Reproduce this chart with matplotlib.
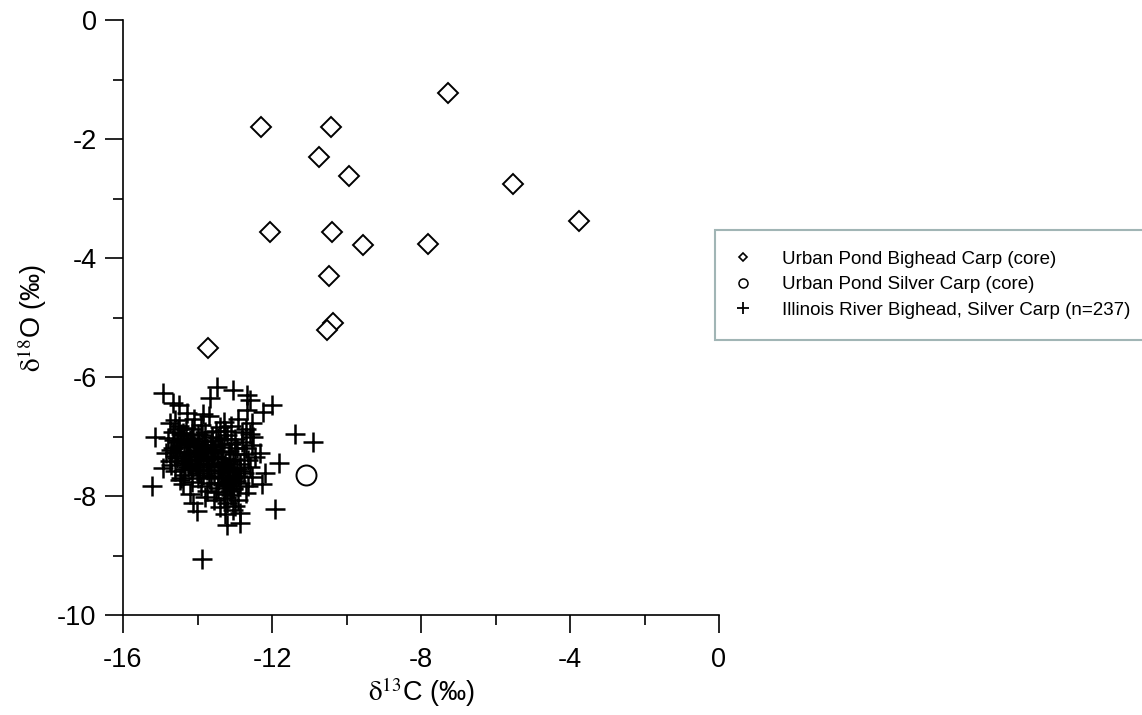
import matplotlib
matplotlib.use("Agg")
import matplotlib.pyplot as plt
from matplotlib.lines import Line2D
from matplotlib.ticker import MultipleLocator

plt.rcParams['font.family'] = ['Liberation Sans', 'DejaVu Sans']
plt.rcParams['mathtext.fontset'] = 'stix'

# Urban Pond Bighead Carp (core)
bighead_c = [-12.30, -10.42, -10.75, -9.93, -5.52, -3.77, -12.06, -10.38,
             -9.56, -7.81, -10.47, -10.37, -10.53, -13.71, -7.27]
bighead_o = [-1.79, -1.79, -2.31, -2.62, -2.76, -3.37, -3.56, -3.56,
             -3.78, -3.76, -4.30, -5.09, -5.21, -5.51, -1.23]

# Urban Pond Silver Carp (core)
silver_c = [-11.09]
silver_o = [-7.64]

# Illinois River Bighead, Silver Carp
river_c = [
    -13.89, -15.23, -11.92, -11.38, -10.91, -11.81, -12.19, -12.28, -14.92, -14.65,
    -13.47, -13.04, -12.68, -12.01, -12.23, -12.68, -13.66, -15.14, -14.92, -14.47,
    -14.11, -14.02, -13.22, -12.86, -13.04, -12.32, -14.74, -14.29, -14.49, -12.59,
    -14.60, -14.30, -14.10, -13.90, -13.70, -13.50, -13.30, -13.10, -12.90, -12.70,
    -14.45, -13.85, -12.55,
    -14.80, -14.55, -14.35, -14.20, -14.00, -13.80, -13.60, -13.40, -13.20, -13.00,
    -12.80, -12.60, -14.65, -13.95, -13.30,
    -14.70, -14.50, -14.30, -14.10, -13.90, -13.75, -13.55, -13.35, -13.15, -12.95,
    -12.75, -12.55, -14.85, -14.00, -13.65,
    -14.75, -14.55, -14.40, -14.20, -14.05, -13.85, -13.65, -13.45, -13.25, -13.05,
    -12.85, -12.65, -12.45, -13.95, -13.35,
    -14.60, -14.35, -14.15, -13.95, -13.75, -13.55, -13.35, -13.15, -12.95, -12.75,
    -12.55, -13.45, -13.05,
    -14.40, -14.15, -13.90, -13.65, -13.45, -13.25, -13.05, -12.85, -12.65, -13.15,
    -14.20, -13.80, -13.50, -13.30, -13.10, -12.90, -12.70, -13.20,
    -13.40, -13.00, -12.85, -13.25,
    -14.50, -14.25, -14.05, -13.80, -13.60, -13.40, -13.20, -13.00, -12.80, -12.60,
    -14.70, -14.45, -14.25, -14.00, -13.75, -13.55, -13.35, -13.10, -12.90, -12.70,
    -14.15, -13.95, -13.70, -13.45, -13.25, -13.05, -12.85, -12.50, -14.60, -14.30,
    -14.62, -14.48, -14.38, -14.22, -14.12, -13.98, -13.88, -13.72, -13.62, -13.52,
    -14.58, -14.42, -14.28, -14.18, -14.08, -13.92, -13.82, -13.68, -13.58, -13.42,
    -14.52, -14.36, -14.24, -14.14, -14.02, -13.86, -13.78, -13.64, -13.48, -13.38,
    -13.28, -13.18, -13.08, -13.22, -13.12, -12.98, -13.32, -13.16, -13.02, -13.26,
    -14.66, -14.34, -14.06, -13.84, -13.56, -13.36, -13.14, -12.96, -14.44, -13.74,
]
river_o = [
    -9.06, -7.84, -8.22, -6.96, -7.09, -7.44, -7.62, -7.80, -6.27, -6.44,
    -6.16, -6.22, -6.30, -6.47, -6.58, -6.55, -6.36, -7.00, -7.53, -7.73,
    -8.12, -8.26, -8.49, -8.46, -8.24, -7.28, -6.78, -6.61, -6.47, -6.39,
    -6.72, -6.85, -6.70, -6.80, -6.66, -6.90, -6.75, -6.82, -6.70, -6.88,
    -6.95, -6.62, -6.78,
    -7.02, -7.10, -6.98, -7.06, -6.96, -7.08, -7.00, -7.12, -6.98, -7.05,
    -7.10, -6.95, -6.92, -7.12, -7.04,
    -7.22, -7.18, -7.26, -7.16, -7.24, -7.20, -7.28, -7.18, -7.25, -7.20,
    -7.30, -7.15, -7.28, -7.30, -7.14,
    -7.42, -7.36, -7.45, -7.38, -7.48, -7.40, -7.46, -7.36, -7.44, -7.38,
    -7.47, -7.40, -7.34, -7.34, -7.50,
    -7.58, -7.64, -7.55, -7.62, -7.56, -7.66, -7.58, -7.64, -7.55, -7.62,
    -7.68, -7.70, -7.70,
    -7.80, -7.76, -7.84, -7.78, -7.86, -7.80, -7.88, -7.78, -7.84, -7.74,
    -7.96, -8.02, -7.94, -8.04, -7.98, -8.06, -7.95, -8.12,
    -8.18, -8.16, -8.28, -8.30,
    -6.82, -7.12, -7.22, -6.92, -7.36, -6.84, -7.52, -7.30, -6.92, -7.52,
    -7.48, -7.70, -7.52, -7.70, -7.92, -8.06, -7.26, -7.12, -7.66, -7.20,
    -6.88, -7.56, -7.68, -7.02, -6.90, -7.86, -7.58, -7.00, -7.32, -7.40,
    -7.06, -7.14, -6.94, -7.32, -7.04, -7.16, -6.98, -7.34, -7.08, -7.22,
    -7.26, -7.42, -7.10, -7.48, -7.30, -7.44, -7.18, -7.52, -7.32, -7.56,
    -6.88, -7.28, -7.46, -7.02, -7.58, -7.26, -7.40, -7.14, -7.36, -7.62,
    -7.48, -7.60, -7.72, -7.82, -7.92, -7.66, -7.78, -7.84, -7.54, -7.96,
    -7.20, -7.54, -7.40, -7.64, -7.22, -7.44, -7.42, -7.74, -7.06, -7.34,
]

labels = ['Urban Pond Bighead Carp (core)',
          'Urban Pond Silver Carp (core)',
          'Illinois River Bighead, Silver Carp (n=237)']

fig = plt.figure(figsize=(11.42, 7.15), dpi=100)
ax = fig.add_axes([123 / 1142, 1 - 615 / 715, 596 / 1142, 595 / 715])

ax.plot(river_c, river_o, linestyle='none', marker='+', markersize=14.5,
        markeredgewidth=1.8, color='black', zorder=2)
ax.plot(silver_c, silver_o, linestyle='none', marker='o', markersize=14.4,
        markerfacecolor='white', markeredgecolor='black', markeredgewidth=1.4, zorder=3)
ax.plot(bighead_c, bighead_o, linestyle='none', marker='D', markersize=9.7,
        markerfacecolor='white', markeredgecolor='black', markeredgewidth=1.4, zorder=3)

ax.set_xlim(-16, 0)
ax.set_ylim(-10, 0)
ax.xaxis.set_minor_locator(MultipleLocator(2))
ax.yaxis.set_minor_locator(MultipleLocator(1))
ax.set_xticks([-16, -12, -8, -4, 0])
ax.set_xticklabels(['-16', '-12', '-8', '-4', '0'])
ax.set_yticks([0, -2, -4, -6, -8, -10])
ax.set_yticklabels(['0', '-2', '-4', '-6', '-8', '-10'])

for side in ['top', 'right']:
    ax.spines[side].set_visible(False)
for side in ['left', 'bottom']:
    ax.spines[side].set_linewidth(1.2)

ax.tick_params(which='major', direction='out', length=13, width=1.2, labelsize=19.5)
ax.tick_params(axis='x', which='major', pad=10)
ax.tick_params(axis='y', which='major', pad=6)
ax.tick_params(which='minor', direction='out', length=7, width=1.2)

ax.set_xlabel(r'$\mathrm{\delta}^{13}$C (‰)', fontsize=19.5, labelpad=2)
ax.set_ylabel(r'$\mathrm{\delta}^{18}$O (‰)', fontsize=19.5, labelpad=6)

handles = [
    Line2D([], [], linestyle='none', marker='D', markersize=4.2,
           markerfacecolor='white', markeredgecolor='black', markeredgewidth=1.2),
    Line2D([], [], linestyle='none', marker='o', markersize=6.5,
           markerfacecolor='white', markeredgecolor='black', markeredgewidth=1.1),
    Line2D([], [], linestyle='none', marker='+', markersize=9,
           markeredgewidth=1.3, color='black'),
]
leg = fig.legend(handles, labels, loc='upper left',
                 bbox_to_anchor=(715 / 1142, 1 - 230 / 715), fontsize=13.5,
                 frameon=True, fancybox=False, handlelength=0.8,
                 handletextpad=1.65, labelspacing=0.45, borderpad=1.1,
                 borderaxespad=0)
leg.get_frame().set_edgecolor('#8aa3a3')
leg.get_frame().set_linewidth(1.5)

fig.savefig('out.png', dpi=100)
